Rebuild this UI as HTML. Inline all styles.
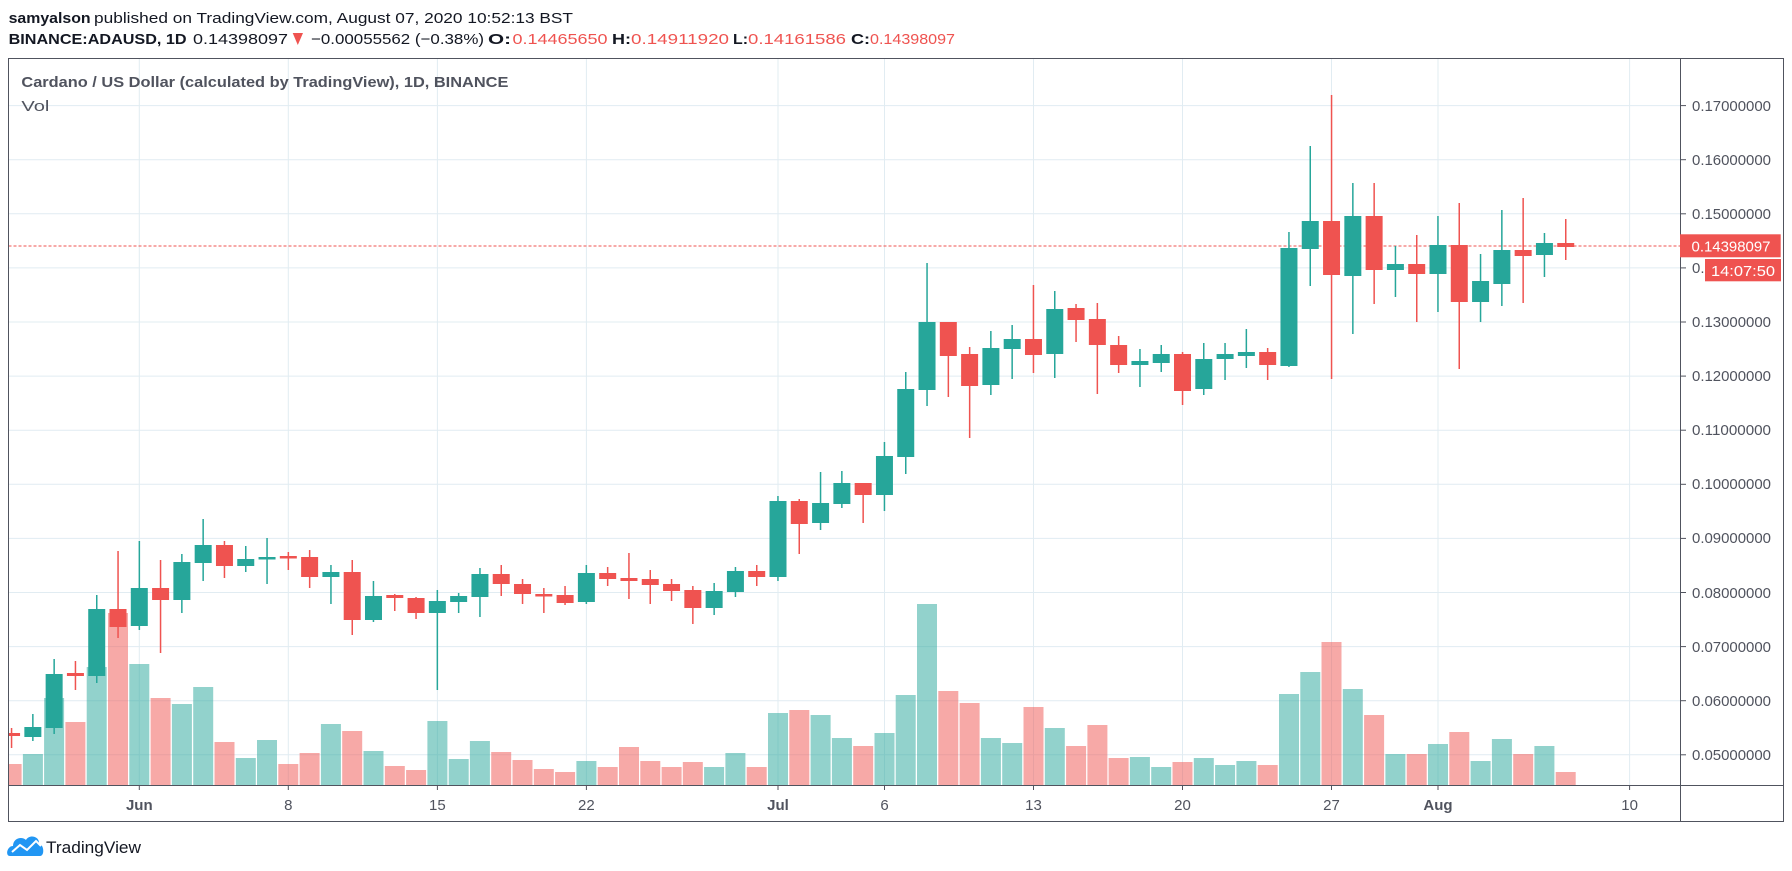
<!DOCTYPE html>
<html><head><meta charset="utf-8"><style>
html,body{margin:0;padding:0;background:#fff;width:1792px;height:871px;overflow:hidden}
svg{display:block}
text{font-family:"Liberation Sans",sans-serif}
</style></head><body>
<svg width="1792" height="871" viewBox="0 0 1792 871" xmlns="http://www.w3.org/2000/svg">
<defs><clipPath id="c"><rect x="8.5" y="59" width="1671.5" height="726"/></clipPath></defs>
<!-- header -->
<text x="8.6" y="23" font-size="15" font-weight="bold" fill="#131722" textLength="82" lengthAdjust="spacingAndGlyphs">samyalson</text>
<text x="94" y="23" font-size="15" fill="#131722" textLength="479" lengthAdjust="spacingAndGlyphs">published on TradingView.com, August 07, 2020 10:52:13 BST</text>
<text x="8.6" y="44" font-size="15" font-weight="bold" fill="#131722" textLength="178" lengthAdjust="spacingAndGlyphs">BINANCE:ADAUSD, 1D</text>
<text x="193" y="44" font-size="15" fill="#131722" textLength="95" lengthAdjust="spacingAndGlyphs">0.14398097</text>
<polygon points="292.7,33 303,33 297.8,45" fill="#ef5350"/>
<text x="311" y="44" font-size="15" fill="#131722" textLength="173" lengthAdjust="spacingAndGlyphs">−0.00055562 (−0.38%)</text>
<text x="488" y="44" font-size="15" font-weight="bold" fill="#131722" textLength="23" lengthAdjust="spacingAndGlyphs">O:</text>
<text x="512.5" y="44" font-size="15" fill="#ef5350" textLength="95" lengthAdjust="spacingAndGlyphs">0.14465650</text>
<text x="612" y="44" font-size="15" font-weight="bold" fill="#131722" textLength="19" lengthAdjust="spacingAndGlyphs">H:</text>
<text x="631" y="44" font-size="15" fill="#ef5350" textLength="98" lengthAdjust="spacingAndGlyphs">0.14911920</text>
<text x="733" y="44" font-size="15" font-weight="bold" fill="#131722" textLength="15" lengthAdjust="spacingAndGlyphs">L:</text>
<text x="748" y="44" font-size="15" fill="#ef5350" textLength="98" lengthAdjust="spacingAndGlyphs">0.14161586</text>
<text x="851" y="44" font-size="15" font-weight="bold" fill="#131722" textLength="19" lengthAdjust="spacingAndGlyphs">C:</text>
<text x="870" y="44" font-size="15" fill="#ef5350" textLength="85" lengthAdjust="spacingAndGlyphs">0.14398097</text>

<!-- grid -->
<g stroke="#e1ecf2" stroke-width="1">
<line x1="8.5" x2="1680" y1="105.6" y2="105.6"/><line x1="8.5" x2="1680" y1="159.7" y2="159.7"/><line x1="8.5" x2="1680" y1="213.8" y2="213.8"/><line x1="8.5" x2="1680" y1="267.9" y2="267.9"/><line x1="8.5" x2="1680" y1="322" y2="322"/><line x1="8.5" x2="1680" y1="376.1" y2="376.1"/><line x1="8.5" x2="1680" y1="430.2" y2="430.2"/><line x1="8.5" x2="1680" y1="484.3" y2="484.3"/><line x1="8.5" x2="1680" y1="538.4" y2="538.4"/><line x1="8.5" x2="1680" y1="592.5" y2="592.5"/><line x1="8.5" x2="1680" y1="646.6" y2="646.6"/><line x1="8.5" x2="1680" y1="700.7" y2="700.7"/><line x1="8.5" x2="1680" y1="754.8" y2="754.8"/>
<line y1="59" y2="785" x1="139.3" x2="139.3"/><line y1="59" y2="785" x1="288.3" x2="288.3"/><line y1="59" y2="785" x1="437.4" x2="437.4"/><line y1="59" y2="785" x1="586.4" x2="586.4"/><line y1="59" y2="785" x1="778" x2="778"/><line y1="59" y2="785" x1="884.5" x2="884.5"/><line y1="59" y2="785" x1="1033.5" x2="1033.5"/><line y1="59" y2="785" x1="1182.5" x2="1182.5"/><line y1="59" y2="785" x1="1331.5" x2="1331.5"/><line y1="59" y2="785" x1="1438" x2="1438"/><line y1="59" y2="785" x1="1629.6" x2="1629.6"/>
</g>

<g clip-path="url(#c)">
<!-- volume -->
<g fill-opacity="0.5">
<rect x="1.6" y="764" width="20" height="21" fill="#ef5350"/><rect x="22.9" y="754" width="20" height="31" fill="#26a69a"/><rect x="44.1" y="698" width="20" height="87" fill="#26a69a"/><rect x="65.4" y="722" width="20" height="63" fill="#ef5350"/><rect x="86.7" y="667" width="20" height="118" fill="#26a69a"/><rect x="108" y="613" width="20" height="172" fill="#ef5350"/><rect x="129.3" y="664" width="20" height="121" fill="#26a69a"/><rect x="150.6" y="698" width="20" height="87" fill="#ef5350"/><rect x="171.9" y="704" width="20" height="81" fill="#26a69a"/><rect x="193.2" y="687" width="20" height="98" fill="#26a69a"/><rect x="214.5" y="742" width="20" height="43" fill="#ef5350"/><rect x="235.8" y="758" width="20" height="27" fill="#26a69a"/><rect x="257" y="740" width="20" height="45" fill="#26a69a"/><rect x="278.3" y="764" width="20" height="21" fill="#ef5350"/><rect x="299.6" y="753" width="20" height="32" fill="#ef5350"/><rect x="320.9" y="724" width="20" height="61" fill="#26a69a"/><rect x="342.2" y="731" width="20" height="54" fill="#ef5350"/><rect x="363.5" y="751" width="20" height="34" fill="#26a69a"/><rect x="384.8" y="766" width="20" height="19" fill="#ef5350"/><rect x="406.1" y="770" width="20" height="15" fill="#ef5350"/><rect x="427.4" y="721" width="20" height="64" fill="#26a69a"/><rect x="448.7" y="759" width="20" height="26" fill="#26a69a"/><rect x="469.9" y="741" width="20" height="44" fill="#26a69a"/><rect x="491.2" y="752" width="20" height="33" fill="#ef5350"/><rect x="512.5" y="760" width="20" height="25" fill="#ef5350"/><rect x="533.8" y="769" width="20" height="16" fill="#ef5350"/><rect x="555.1" y="772" width="20" height="13" fill="#ef5350"/><rect x="576.4" y="761" width="20" height="24" fill="#26a69a"/><rect x="597.7" y="767" width="20" height="18" fill="#ef5350"/><rect x="619" y="747" width="20" height="38" fill="#ef5350"/><rect x="640.3" y="761" width="20" height="24" fill="#ef5350"/><rect x="661.6" y="767" width="20" height="18" fill="#ef5350"/><rect x="682.8" y="762" width="20" height="23" fill="#ef5350"/><rect x="704.1" y="767" width="20" height="18" fill="#26a69a"/><rect x="725.4" y="753" width="20" height="32" fill="#26a69a"/><rect x="746.7" y="767" width="20" height="18" fill="#ef5350"/><rect x="768" y="713" width="20" height="72" fill="#26a69a"/><rect x="789.3" y="710" width="20" height="75" fill="#ef5350"/><rect x="810.6" y="715" width="20" height="70" fill="#26a69a"/><rect x="831.9" y="738" width="20" height="47" fill="#26a69a"/><rect x="853.2" y="746" width="20" height="39" fill="#ef5350"/><rect x="874.5" y="733" width="20" height="52" fill="#26a69a"/><rect x="895.7" y="695" width="20" height="90" fill="#26a69a"/><rect x="917" y="604" width="20" height="181" fill="#26a69a"/><rect x="938.3" y="691" width="20" height="94" fill="#ef5350"/><rect x="959.6" y="703" width="20" height="82" fill="#ef5350"/><rect x="980.9" y="738" width="20" height="47" fill="#26a69a"/><rect x="1002.2" y="743" width="20" height="42" fill="#26a69a"/><rect x="1023.5" y="707" width="20" height="78" fill="#ef5350"/><rect x="1044.8" y="728" width="20" height="57" fill="#26a69a"/><rect x="1066.1" y="746" width="20" height="39" fill="#ef5350"/><rect x="1087.4" y="725" width="20" height="60" fill="#ef5350"/><rect x="1108.6" y="758" width="20" height="27" fill="#ef5350"/><rect x="1129.9" y="757" width="20" height="28" fill="#26a69a"/><rect x="1151.2" y="767" width="20" height="18" fill="#26a69a"/><rect x="1172.5" y="762" width="20" height="23" fill="#ef5350"/><rect x="1193.8" y="758" width="20" height="27" fill="#26a69a"/><rect x="1215.1" y="765" width="20" height="20" fill="#26a69a"/><rect x="1236.4" y="761" width="20" height="24" fill="#26a69a"/><rect x="1257.7" y="765" width="20" height="20" fill="#ef5350"/><rect x="1279" y="694" width="20" height="91" fill="#26a69a"/><rect x="1300.3" y="672" width="20" height="113" fill="#26a69a"/><rect x="1321.5" y="642" width="20" height="143" fill="#ef5350"/><rect x="1342.8" y="689" width="20" height="96" fill="#26a69a"/><rect x="1364.1" y="715" width="20" height="70" fill="#ef5350"/><rect x="1385.4" y="754" width="20" height="31" fill="#26a69a"/><rect x="1406.7" y="754" width="20" height="31" fill="#ef5350"/><rect x="1428" y="744" width="20" height="41" fill="#26a69a"/><rect x="1449.3" y="732" width="20" height="53" fill="#ef5350"/><rect x="1470.6" y="761" width="20" height="24" fill="#26a69a"/><rect x="1491.9" y="739" width="20" height="46" fill="#26a69a"/><rect x="1513.2" y="754" width="20" height="31" fill="#ef5350"/><rect x="1534.4" y="746" width="20" height="39" fill="#26a69a"/><rect x="1555.7" y="772" width="20" height="13" fill="#ef5350"/>
</g>
<!-- price line -->
<line x1="8.5" x2="1680" y1="246" y2="246" stroke="#ef5350" stroke-width="1" stroke-dasharray="3,2"/>
<!-- candles -->
<g id="g" fill="#26a69a" stroke="none">
<rect x="32.1" y="714" width="1.5" height="27"/><rect x="24.35" y="727" width="17" height="10"/>
<rect x="53.4" y="659" width="1.5" height="75"/><rect x="45.64" y="674" width="17" height="54"/>
<rect x="96" y="595" width="1.5" height="88"/><rect x="88.22" y="609" width="17" height="67"/>
<rect x="138.6" y="541" width="1.5" height="89"/><rect x="130.8" y="588" width="17" height="38"/>
<rect x="181.1" y="554" width="1.5" height="59"/><rect x="173.38" y="562" width="17" height="38"/>
<rect x="202.4" y="519" width="1.5" height="62"/><rect x="194.67" y="545" width="17" height="18"/>
<rect x="245" y="546" width="1.5" height="26"/><rect x="237.25" y="559" width="17" height="7"/>
<rect x="266.3" y="538" width="1.5" height="46"/><rect x="258.54" y="557" width="17" height="2.5"/>
<rect x="330.2" y="565" width="1.5" height="39"/><rect x="322.41" y="572" width="17" height="5"/>
<rect x="372.7" y="581" width="1.5" height="41"/><rect x="364.99" y="596" width="17" height="24"/>
<rect x="436.6" y="590" width="1.5" height="100"/><rect x="428.86" y="601" width="17" height="12"/>
<rect x="457.9" y="593" width="1.5" height="20"/><rect x="450.15" y="596" width="17" height="6"/>
<rect x="479.2" y="568" width="1.5" height="49"/><rect x="471.44" y="574" width="17" height="23"/>
<rect x="585.6" y="565" width="1.5" height="39"/><rect x="577.89" y="573" width="17" height="29"/>
<rect x="713.4" y="583" width="1.5" height="32"/><rect x="705.63" y="591" width="17" height="17"/>
<rect x="734.7" y="567" width="1.5" height="30"/><rect x="726.92" y="571" width="17" height="21"/>
<rect x="777.2" y="496" width="1.5" height="85"/><rect x="769.5" y="501" width="17" height="76"/>
<rect x="819.8" y="472" width="1.5" height="58"/><rect x="812.08" y="503" width="17" height="20"/>
<rect x="841.1" y="471" width="1.5" height="37"/><rect x="833.37" y="483" width="17" height="21"/>
<rect x="883.7" y="442" width="1.5" height="69"/><rect x="875.95" y="456" width="17" height="39"/>
<rect x="905" y="372" width="1.5" height="102"/><rect x="897.24" y="389" width="17" height="68"/>
<rect x="926.3" y="263" width="1.5" height="143"/><rect x="918.53" y="322" width="17" height="68"/>
<rect x="990.1" y="331" width="1.5" height="64"/><rect x="982.4" y="348" width="17" height="37"/>
<rect x="1011.4" y="325" width="1.5" height="54"/><rect x="1003.69" y="339" width="17" height="10"/>
<rect x="1054" y="291" width="1.5" height="87"/><rect x="1046.27" y="309" width="17" height="45"/>
<rect x="1139.2" y="349" width="1.5" height="38"/><rect x="1131.43" y="361" width="17" height="4"/>
<rect x="1160.5" y="345" width="1.5" height="27"/><rect x="1152.72" y="354" width="17" height="9"/>
<rect x="1203" y="343" width="1.5" height="52"/><rect x="1195.3" y="359" width="17" height="30"/>
<rect x="1224.3" y="343" width="1.5" height="37"/><rect x="1216.59" y="354" width="17" height="5"/>
<rect x="1245.6" y="329" width="1.5" height="39"/><rect x="1237.88" y="352" width="17" height="4"/>
<rect x="1288.2" y="232" width="1.5" height="135"/><rect x="1280.46" y="248" width="17" height="118"/>
<rect x="1309.5" y="146" width="1.5" height="140"/><rect x="1301.75" y="221" width="17" height="28"/>
<rect x="1352.1" y="183" width="1.5" height="151"/><rect x="1344.33" y="216" width="17" height="60"/>
<rect x="1394.7" y="246" width="1.5" height="51"/><rect x="1386.91" y="264" width="17" height="6"/>
<rect x="1437.2" y="216" width="1.5" height="96"/><rect x="1429.49" y="245" width="17" height="29"/>
<rect x="1479.8" y="254" width="1.5" height="68"/><rect x="1472.07" y="281" width="17" height="21"/>
<rect x="1501.1" y="210" width="1.5" height="96"/><rect x="1493.36" y="250" width="17" height="34"/>
<rect x="1543.7" y="233" width="1.5" height="44"/><rect x="1535.94" y="243" width="17" height="12"/>
</g>
<g fill="#ef5350">
<rect x="10.8" y="728" width="1.5" height="20"/><rect x="3.06" y="733" width="17" height="3"/>
<rect x="74.7" y="661" width="1.5" height="29"/><rect x="66.93" y="673" width="17" height="3"/>
<rect x="117.3" y="551" width="1.5" height="87"/><rect x="109.51" y="609" width="17" height="18"/>
<rect x="159.8" y="560" width="1.5" height="93"/><rect x="152.09" y="588" width="17" height="12"/>
<rect x="223.7" y="541" width="1.5" height="37"/><rect x="215.96" y="545" width="17" height="21"/>
<rect x="287.6" y="552" width="1.5" height="18"/><rect x="279.83" y="556" width="17" height="2.5"/>
<rect x="308.9" y="550" width="1.5" height="38"/><rect x="301.12" y="557" width="17" height="20"/>
<rect x="351.5" y="560" width="1.5" height="75"/><rect x="343.7" y="572" width="17" height="48"/>
<rect x="394" y="594" width="1.5" height="17"/><rect x="386.28" y="595" width="17" height="3"/>
<rect x="415.3" y="597" width="1.5" height="22"/><rect x="407.57" y="598" width="17" height="15"/>
<rect x="500.5" y="565" width="1.5" height="31"/><rect x="492.73" y="574" width="17" height="10"/>
<rect x="521.8" y="579" width="1.5" height="25"/><rect x="514.02" y="584" width="17" height="10"/>
<rect x="543.1" y="588" width="1.5" height="25"/><rect x="535.31" y="594" width="17" height="2.5"/>
<rect x="564.3" y="586" width="1.5" height="19"/><rect x="556.6" y="595" width="17" height="8"/>
<rect x="606.9" y="567" width="1.5" height="19"/><rect x="599.18" y="573" width="17" height="6"/>
<rect x="628.2" y="553" width="1.5" height="46"/><rect x="620.47" y="578" width="17" height="3"/>
<rect x="649.5" y="570" width="1.5" height="34"/><rect x="641.76" y="579" width="17" height="6"/>
<rect x="670.8" y="579" width="1.5" height="22"/><rect x="663.05" y="584" width="17" height="7"/>
<rect x="692.1" y="586" width="1.5" height="38"/><rect x="684.34" y="590" width="17" height="18"/>
<rect x="756" y="565" width="1.5" height="21"/><rect x="748.21" y="571" width="17" height="6"/>
<rect x="798.5" y="499" width="1.5" height="55"/><rect x="790.79" y="501" width="17" height="23"/>
<rect x="862.4" y="483" width="1.5" height="40"/><rect x="854.66" y="483" width="17" height="12"/>
<rect x="947.6" y="322" width="1.5" height="75"/><rect x="939.82" y="322" width="17" height="34"/>
<rect x="968.9" y="347" width="1.5" height="91"/><rect x="961.11" y="354" width="17" height="32"/>
<rect x="1032.7" y="285" width="1.5" height="88"/><rect x="1024.98" y="339" width="17" height="16"/>
<rect x="1075.3" y="304" width="1.5" height="38"/><rect x="1067.56" y="308" width="17" height="12"/>
<rect x="1096.6" y="303" width="1.5" height="91"/><rect x="1088.85" y="319" width="17" height="26"/>
<rect x="1117.9" y="336" width="1.5" height="37"/><rect x="1110.14" y="345" width="17" height="20"/>
<rect x="1181.8" y="352" width="1.5" height="53"/><rect x="1174.01" y="354" width="17" height="37"/>
<rect x="1266.9" y="348" width="1.5" height="32"/><rect x="1259.17" y="352" width="17" height="13"/>
<rect x="1330.8" y="95" width="1.5" height="284"/><rect x="1323.04" y="221" width="17" height="54"/>
<rect x="1373.4" y="183" width="1.5" height="121"/><rect x="1365.62" y="216" width="17" height="54"/>
<rect x="1416" y="235" width="1.5" height="87"/><rect x="1408.2" y="264" width="17" height="10"/>
<rect x="1458.5" y="203" width="1.5" height="166"/><rect x="1450.78" y="245" width="17" height="57"/>
<rect x="1522.4" y="198" width="1.5" height="105"/><rect x="1514.65" y="250" width="17" height="6"/>
<rect x="1565" y="219" width="1.5" height="41"/><rect x="1557.23" y="243" width="17" height="4"/>
</g>
</g>

<!-- title -->
<text x="21.4" y="87" font-size="15" font-weight="bold" fill="#50535e" textLength="487" lengthAdjust="spacingAndGlyphs">Cardano / US Dollar (calculated by TradingView), 1D, BINANCE</text>
<text x="21.4" y="111" font-size="15" fill="#50535e" textLength="28" lengthAdjust="spacingAndGlyphs">Vol</text>

<!-- frame -->
<g stroke="#50535e" stroke-width="1" fill="none">
<rect x="8.5" y="58.5" width="1775" height="763"/>
<line x1="1680.5" y1="58.5" x2="1680.5" y2="821.5"/>
<line x1="8.5" y1="785.5" x2="1783.5" y2="785.5"/>
</g>
<!-- price axis -->
<g stroke="#50535e" stroke-width="1">
<line x1="1680" x2="1686" y1="105.6" y2="105.6"/><line x1="1680" x2="1686" y1="159.7" y2="159.7"/><line x1="1680" x2="1686" y1="213.8" y2="213.8"/><line x1="1680" x2="1686" y1="267.9" y2="267.9"/><line x1="1680" x2="1686" y1="322" y2="322"/><line x1="1680" x2="1686" y1="376.1" y2="376.1"/><line x1="1680" x2="1686" y1="430.2" y2="430.2"/><line x1="1680" x2="1686" y1="484.3" y2="484.3"/><line x1="1680" x2="1686" y1="538.4" y2="538.4"/><line x1="1680" x2="1686" y1="592.5" y2="592.5"/><line x1="1680" x2="1686" y1="646.6" y2="646.6"/><line x1="1680" x2="1686" y1="700.7" y2="700.7"/><line x1="1680" x2="1686" y1="754.8" y2="754.8"/>
</g>
<g font-size="15" fill="#50535e">
<text x="1692" y="111" textLength="79" lengthAdjust="spacingAndGlyphs">0.17000000</text>
<text x="1692" y="165" textLength="79" lengthAdjust="spacingAndGlyphs">0.16000000</text>
<text x="1692" y="219" textLength="79" lengthAdjust="spacingAndGlyphs">0.15000000</text>
<text x="1692" y="273" textLength="79" lengthAdjust="spacingAndGlyphs">0.14000000</text>
<text x="1692" y="327" textLength="79" lengthAdjust="spacingAndGlyphs">0.13000000</text>
<text x="1692" y="381" textLength="79" lengthAdjust="spacingAndGlyphs">0.12000000</text>
<text x="1692" y="435" textLength="79" lengthAdjust="spacingAndGlyphs">0.11000000</text>
<text x="1692" y="489" textLength="79" lengthAdjust="spacingAndGlyphs">0.10000000</text>
<text x="1692" y="543" textLength="79" lengthAdjust="spacingAndGlyphs">0.09000000</text>
<text x="1692" y="598" textLength="79" lengthAdjust="spacingAndGlyphs">0.08000000</text>
<text x="1692" y="652" textLength="79" lengthAdjust="spacingAndGlyphs">0.07000000</text>
<text x="1692" y="706" textLength="79" lengthAdjust="spacingAndGlyphs">0.06000000</text>
<text x="1692" y="760" textLength="79" lengthAdjust="spacingAndGlyphs">0.05000000</text>
</g>
<rect x="1680" y="234.3" width="100.7" height="23" fill="#ef5350"/>
<text x="1691.5" y="251.5" font-size="15" fill="#fff" textLength="79" lengthAdjust="spacingAndGlyphs">0.14398097</text>
<rect x="1705" y="259" width="76" height="22.3" fill="#ef5350"/>
<text x="1711" y="276" font-size="15" fill="#fff" textLength="64" lengthAdjust="spacingAndGlyphs">14:07:50</text>

<!-- time axis -->
<g stroke="#50535e" stroke-width="1">
<line x1="139.3" x2="139.3" y1="785" y2="790"/><line x1="288.3" x2="288.3" y1="785" y2="790"/><line x1="437.4" x2="437.4" y1="785" y2="790"/><line x1="586.4" x2="586.4" y1="785" y2="790"/><line x1="778" x2="778" y1="785" y2="790"/><line x1="884.5" x2="884.5" y1="785" y2="790"/><line x1="1033.5" x2="1033.5" y1="785" y2="790"/><line x1="1182.5" x2="1182.5" y1="785" y2="790"/><line x1="1331.5" x2="1331.5" y1="785" y2="790"/><line x1="1438" x2="1438" y1="785" y2="790"/><line x1="1629.6" x2="1629.6" y1="785" y2="790"/>
</g>
<g font-size="15" fill="#50535e" text-anchor="middle">
<text x="139.3" y="810" font-weight="bold">Jun</text>
<text x="288.3" y="810">8</text>
<text x="437.4" y="810">15</text>
<text x="586.4" y="810">22</text>
<text x="778" y="810" font-weight="bold">Jul</text>
<text x="884.5" y="810">6</text>
<text x="1033.5" y="810">13</text>
<text x="1182.5" y="810">20</text>
<text x="1331.5" y="810">27</text>
<text x="1438" y="810" font-weight="bold">Aug</text>
<text x="1629.6" y="810">10</text>
</g>

<!-- logo -->
<g fill="#2196f3">
<path d="M10,856 C5,856 7,846 13,846 C13,838 22,836 26,840 C29,834 40,836 39,844 C44,844 45,856 40,856 Z"/>
</g>
<polyline points="12,852 20,845 27,850 36,841 41,846" fill="none" stroke="#fff" stroke-width="2"/>
<text x="46" y="853" font-size="17" fill="#131722" textLength="95" lengthAdjust="spacingAndGlyphs">TradingView</text>
</svg>
</body></html>
